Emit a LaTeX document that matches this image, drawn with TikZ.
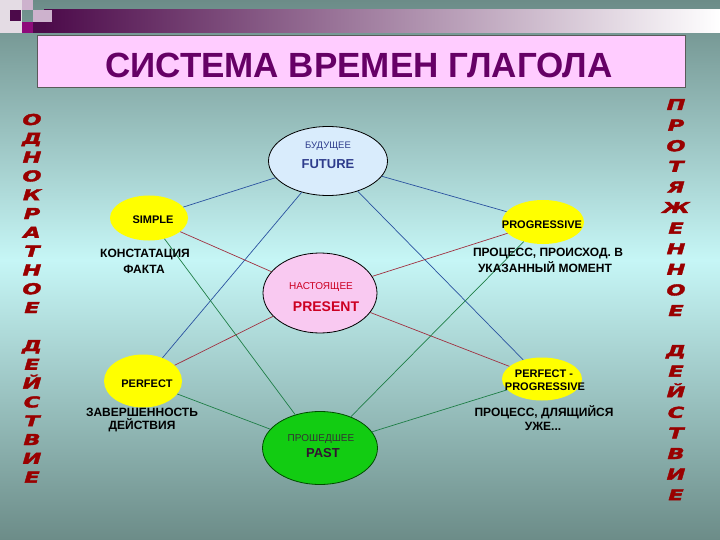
\documentclass[tikz,border=0pt]{standalone}
\usepackage{fontspec}
\setmainfont{Liberation Sans}
\newfontfamily\artfont{DejaVu Sans}[FakeStretch=1.5, FakeBold=2.5]
\usetikzlibrary{shapes.geometric}
\definecolor{bgmid}{HTML}{C6F6F6}
\definecolor{bgend}{HTML}{6C8C88}
\definecolor{barpurple}{HTML}{4C0A4A}
\definecolor{barmid}{HTML}{A07098}
\definecolor{decolight}{HTML}{E4DCE4}
\definecolor{decolav}{HTML}{CDB2CD}
\definecolor{decomag}{HTML}{8E0A7A}
\definecolor{titlepink}{HTML}{FFCCFF}
\definecolor{titleedge}{HTML}{5A5A5A}
\definecolor{titlepurple}{HTML}{660066}
\definecolor{skyoval}{HTML}{D9ECFC}
\definecolor{pinkoval}{HTML}{F9C9F1}
\definecolor{greenoval}{HTML}{12CC12}
\definecolor{ovalyellow}{HTML}{FFFF00}
\definecolor{futblue}{HTML}{2E3C8C}
\definecolor{presred}{HTML}{CC0022}
\definecolor{pastdark}{HTML}{331133}
\definecolor{lineblue}{HTML}{2A52A0}
\definecolor{linered}{HTML}{A03040}
\definecolor{linegreen}{HTML}{1E7E46}
\definecolor{wordred}{HTML}{990000}

\begin{document}
\begin{tikzpicture}[x=1pt,y=-1pt,
    oval/.style={draw, ellipse, inner sep=0pt, line width=0.8pt},
    yel/.style={ellipse, fill=ovalyellow, inner sep=0pt},
    lab/.style={font=\fontsize{12}{12}\selectfont\bfseries, anchor=base, inner sep=0pt},
    small/.style={font=\fontsize{10}{10}\selectfont, anchor=base, inner sep=0pt},
    big/.style={font=\fontsize{13}{13}\selectfont\bfseries, anchor=base, inner sep=0pt},
    vert/.style={font=\artfont\fontsize{15}{15}\selectfont\bfseries\itshape, text=wordred, anchor=base, inner sep=0pt},
    blu/.style={draw=lineblue, line width=0.7pt},
    rd/.style={draw=linered, line width=0.7pt},
    grn/.style={draw=linegreen, line width=0.7pt}]

    \useasboundingbox (0,0) rectangle (720,540);
    \shade[top color=bgend, bottom color=bgmid] (0,0) rectangle (720,260);
    \shade[top color=bgmid, bottom color=bgend] (0,260) rectangle (720,540);

    \fill[decolight] (0,0) rectangle (22,33);
    \fill[barpurple] (10,10) rectangle (21,21);
    \fill[decolav] (22,0) rectangle (33,10);
    \shade[left color=barpurple, middle color=barmid, right color=white] (44,10) rectangle (720,33);
    \fill[decolav] (33,10) rectangle (52,22);
    \fill[decomag] (22,22) rectangle (33,33);
    \fill[barpurple] (33,22) rectangle (44,33);

    \node[draw=titleedge, fill=titlepink, line width=1pt, minimum width=648pt, minimum height=52pt, inner sep=0pt] (title) at (361,62) {};
    \node[font=\fontsize{35}{35}\selectfont\bfseries, text=titlepurple, anchor=base, inner sep=0pt] (titletext) at (359,77.5) {СИСТЕМА ВРЕМЕН ГЛАГОЛА};

    \node[oval, fill=skyoval, minimum width=119pt, minimum height=69pt] (future) at (328,161) {};
    \node[oval, fill=pinkoval, minimum width=114pt, minimum height=80pt] (present) at (320,293) {};
    \node[oval, draw=black!70!green, fill=greenoval, minimum width=115pt, minimum height=73pt] (past) at (320,448) {};
    \node[yel, minimum width=78pt, minimum height=45pt] (simple) at (149,218) {};
    \node[yel, minimum width=82pt, minimum height=44pt] (progressive) at (543,222) {};
    \node[yel, minimum width=78pt, minimum height=53pt] (perfect) at (143,381) {};
    \node[yel, minimum width=80pt, minimum height=43pt] (perfprog) at (542,379) {};

    \draw[blu] (future) -- (simple);
    \draw[blu] (future) -- (progressive);
    \draw[blu] (future) -- (perfect);
    \draw[blu] (future) -- (perfprog);
    \draw[rd] (present) -- (simple);
    \draw[rd] (present) -- (progressive);
    \draw[rd] (present) -- (perfect);
    \draw[rd] (present) -- (perfprog);
    \draw[grn] (past) -- (simple);
    \draw[grn] (past) -- (progressive);
    \draw[grn] (past) -- (perfect);
    \draw[grn] (past) -- (perfprog);

    \node[small, font=\fontsize{9.5}{9.5}\selectfont, text=futblue] (futru) at (328,148.5) {БУДУЩЕЕ};
    \node[big, text=futblue] (futen) at (328,168.5) {FUTURE};
    \node[small, text=presred] (presru) at (321,289.5) {НАСТОЯЩЕЕ};
    \node[big, font=\fontsize{14}{14}\selectfont\bfseries, text=presred] (presen) at (326,311) {PRESENT};
    \node[small, text=black!80] (pastru) at (321,441.5) {ПРОШЕДШЕЕ};
    \node[big, text=pastdark] (pasten) at (323,457.5) {PAST};

    \node[lab, font=\fontsize{11}{11}\selectfont\bfseries] (simpletext) at (153,223) {SIMPLE};
    \node[lab, font=\fontsize{11}{11}\selectfont\bfseries] (progtext) at (542,228.5) {PROGRESSIVE};
    \node[lab, font=\fontsize{11}{11}\selectfont\bfseries] (perftext) at (147,387) {PERFECT};
    \node[lab, font=\fontsize{11}{11}\selectfont\bfseries] (pptext1) at (544,377) {PERFECT -};
    \node[lab, font=\fontsize{11}{11}\selectfont\bfseries] (pptext2) at (545,390.5) {PROGRESSIVE};

    \node[lab] (simpledesc1) at (145,257.3) {КОНСТАТАЦИЯ};
    \node[lab] (simpledesc2) at (144,273.3) {ФАКТА};
    \node[lab] (progdesc1) at (548,256.7) {ПРОЦЕСС, ПРОИСХОД. В};
    \node[lab] (progdesc2) at (545,272) {УКАЗАННЫЙ МОМЕНТ};
    \node[lab] (perfdesc1) at (142,416) {ЗАВЕРШЕННОСТЬ};
    \node[lab] (perfdesc2) at (142,429.5) {ДЕЙСТВИЯ};
    \node[lab] (ppdesc1) at (544,416.5) {ПРОЦЕСС, ДЛЯЩИЙСЯ};
    \node[lab] (ppdesc2) at (543,430) {УЖЕ...};

    \foreach \c [count=\i from 0] in {О,Д,Н,О,К,Р,А,Т,Н,О,Е}
        \node[vert] (lefta\i) at (32,125+18.8*\i) {\c};
    \foreach \c [count=\i from 0] in {Д,Е,Й,С,Т,В,И,Е}
        \node[vert] (leftb\i) at (32,351+18.8*\i) {\c};
    \foreach \c [count=\i from 0] in {П,Р,О,Т,Я,Ж,Е,Н,Н,О,Е}
        \node[vert] (righta\i) at (676,110+20.6*\i) {\c};
    \foreach \c [count=\i from 0] in {Д,Е,Й,С,Т,В,И,Е}
        \node[vert] (rightb\i) at (676,356+20.6*\i) {\c};
\end{tikzpicture}
\end{document}
